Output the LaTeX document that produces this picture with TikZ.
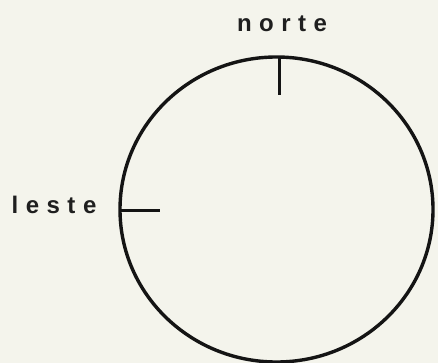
\documentclass[tikz,border=0pt]{standalone}
\usepackage{fontspec}
\setmainfont{Liberation Sans}
\newcommand{\ls}{\kern 7.5pt}
\begin{document}
\begin{tikzpicture}[x=1pt,y=-1pt,
  lbl/.style={font=\fontsize{24}{24}\selectfont\bfseries, inner sep=0pt, text=black!88},
  ring/.style={line width=3.4pt, draw=black!92},
  tick/.style={line width=3pt, draw=black!92}]
\fill[fill={rgb,255:red,244;green,244;blue,236}] (0,0) rectangle (438,363);
\useasboundingbox (0,0) rectangle (438,363);
\coordinate (c) at (276.5,209.5);
\draw[ring] (c) ellipse [x radius=156.5, y radius=152.5];
\coordinate (ntop) at (279,57);
\coordinate (nbot) at (279,95);
\coordinate (lout) at (120,210);
\coordinate (lin) at (160,210);
\draw[tick] (ntop) -- (nbot);
\draw[tick] (lout) -- (lin);
\node[lbl] (norte) at (282,24) {n\ls o\ls r\ls t\ls e};
\node[lbl] (leste) at (54,205) {l\ls e\ls s\ls t\ls e};
\end{tikzpicture}
\end{document}
